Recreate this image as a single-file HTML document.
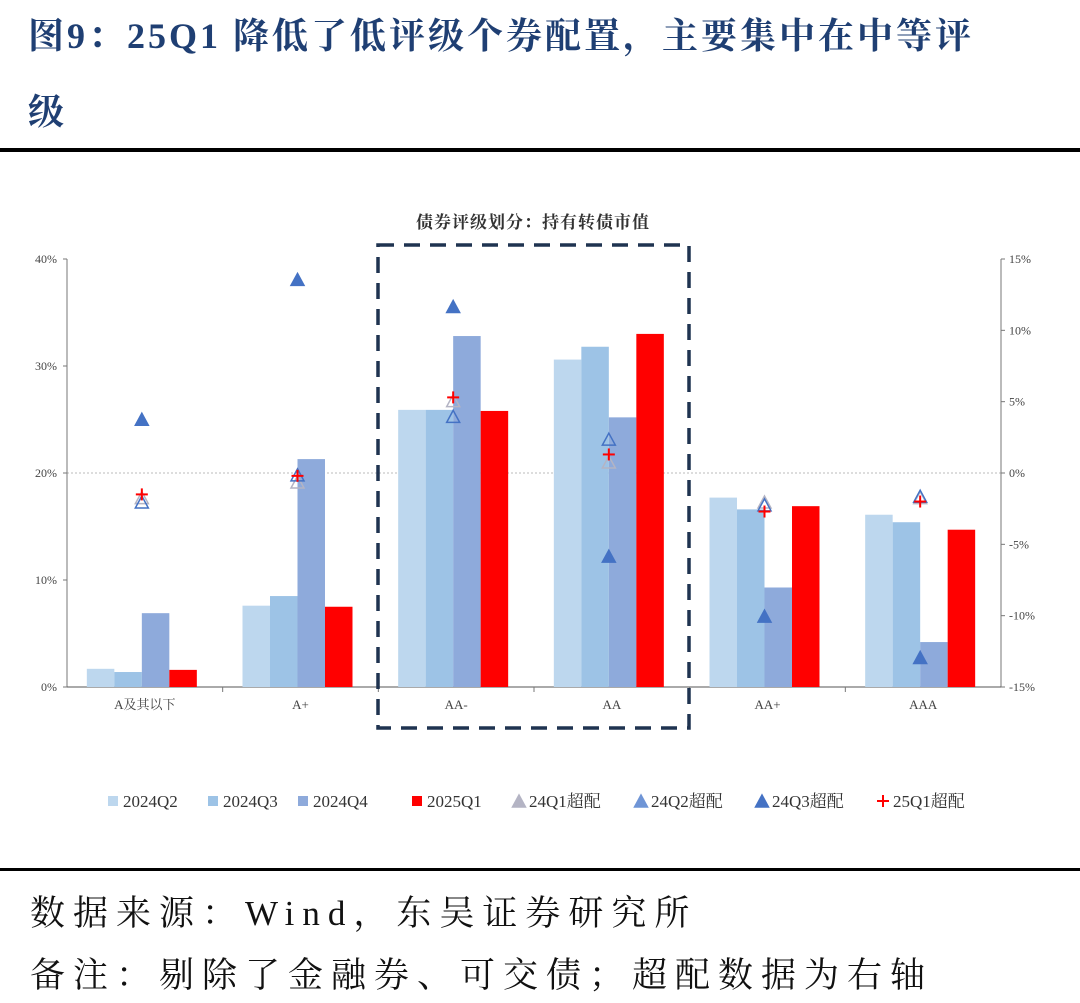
<!DOCTYPE html>
<html><head><meta charset="utf-8"><style>
body{margin:0;background:#fff;width:1080px;height:1003px;overflow:hidden;font-family:"Liberation Serif","Noto Serif CJK SC",serif}
.h{position:absolute;left:28px;color:#1f3f73;font-weight:bold;font-size:36px;font-family:"Liberation Serif","Noto Serif CJK SC",serif;letter-spacing:3px;white-space:nowrap}
.note{position:absolute;left:30px;font-size:35px;color:#111;letter-spacing:8px;white-space:nowrap}
</style></head><body>
<div class="h" style="top:8px">图9：25Q1 降低了低评级个券配置，主要集中在中等评</div>
<div class="h" style="top:84px">级</div>
<div style="position:absolute;left:0;top:148px;width:1080px;height:4px;background:#000"></div>
<div style="position:absolute;left:0;top:868px;width:1080px;height:3px;background:#000"></div>
<div class="note" style="top:886px">数据来源：Wind，东吴证券研究所</div>
<div class="note" style="top:948px">备注：剔除了金融券、可交债；超配数据为右轴</div>
<svg id="c" width="1080" height="1003" style="position:absolute;left:0;top:0"></svg>
<script>
const categories=["A及其以下","A+","AA-","AA","AA+","AAA"];
const s2024Q2=[1.7,7.6,25.9,30.6,17.7,16.1];
const s2024Q3=[1.4,8.5,25.9,31.8,16.6,15.4];
const s2024Q4=[6.9,21.3,32.8,25.2,9.3,4.2];
const s2025Q1=[1.6,7.5,25.8,33.0,16.9,14.7];
const o24Q1=[-1.8,-0.7,5.0,0.7,-2.1,-1.8];
const o24Q2=[-2.1,-0.2,3.9,2.3,-2.3,-1.7];
const o24Q3=[3.7,13.5,11.6,-5.9,-10.1,-13.0];
const o25Q1=[-1.5,-0.2,5.3,1.3,-2.7,-2.0];
const leftTicks=[0,10,20,30,40];
const rightTicks=[-15,-10,-5,0,5,10,15];
const NS="http://www.w3.org/2000/svg",svg=document.getElementById('c');
const X0=67,X1=1001,Y0=687,Y1=259;
const yL=v=>Y0-(v/40)*(Y0-Y1);
const yR=v=>Y0-((v+15)/30)*(Y0-Y1);
const cw=(X1-X0)/categories.length;
const cx=i=>X0+cw*(i+0.5);
function el(t,a,txt){const e=document.createElementNS(NS,t);for(const k in a)e.setAttribute(k,a[k]);if(txt!=null)e.textContent=txt;svg.appendChild(e);return e;}
let e;
e=el('text',{x:533,y:228,'text-anchor':'middle','font-size':17,'font-weight':'bold',fill:'#333','letter-spacing':1},'债券评级划分：持有转债市值');


e=el('line',{x1:X0,x2:X1,y1:yR(0),y2:yR(0),stroke:'#bbb','stroke-width':1,'stroke-dasharray':'2,2'});


el('line',{x1:X0,x2:X0,y1:Y1,y2:Y0,stroke:'#777'});
el('line',{x1:X1,x2:X1,y1:Y1,y2:Y0,stroke:'#777'});
el('line',{x1:X0,x2:X1,y1:Y0,y2:Y0,stroke:'#555'});
leftTicks.forEach(t=>{el('line',{x1:X0-4,x2:X0,y1:yL(t),y2:yL(t),stroke:'#777'});
e=el('text',{x:X0-10,y:yL(t)+4,'text-anchor':'end','font-size':12,fill:'#444'},t+'%');

});
rightTicks.forEach(t=>{el('line',{x1:X1,x2:X1+4,y1:yR(t),y2:yR(t),stroke:'#777'});
e=el('text',{x:X1+8,y:yR(t)+4,'font-size':12,fill:'#444'},t+'%');

});
const series=[[s2024Q2,'#bdd7ee'],[s2024Q3,'#9dc3e6'],[s2024Q4,'#8eaadb'],[s2025Q1,'#ff0000']];
const bw=27.5;
categories.forEach((c,i)=>{
 if(i>0)el('line',{x1:X0+cw*i,x2:X0+cw*i,y1:Y0,y2:Y0+5,stroke:'#777'});
 series.forEach(([arr,col],j)=>{
  e=el('rect',{x:cx(i)-58+j*bw,y:yL(arr[i]),width:bw,height:Y0-yL(arr[i]),fill:col});
  
  
 });
 e=el('text',{x:cx(i),y:Y0+22,'text-anchor':'middle','font-size':13,fill:'#444'},c);
 
 
});
function tri(x,y,fill,stroke){return el('path',{d:`M${x},${y-7}L${x+6.5},${y+5}L${x-6.5},${y+5}Z`,fill:fill,stroke:stroke,'stroke-width':1.5});}
function plus(x,y){const g=document.createElementNS(NS,'g');svg.appendChild(g);
 ['M'+(x-6)+','+y+'h12','M'+x+','+(y-6)+'v12'].forEach(d=>{const p=document.createElementNS(NS,'path');p.setAttribute('d',d);p.setAttribute('stroke','#ff0000');p.setAttribute('stroke-width',2);g.appendChild(p);});return g;}
categories.forEach((c,i)=>{
 const mx=cx(i)-3;
 e=tri(mx,yR(o24Q1[i]),'none','#b4b4c4');
 
 
 e=tri(mx,yR(o24Q2[i]),'none','#4472c4');
 
 
 e=tri(mx,yR(o24Q3[i]),'#4472c4','#4472c4');
 
 
 e=plus(mx,yR(o25Q1[i]));
 
 
});
e=el('rect',{x:378,y:245,width:311,height:483,fill:'none',stroke:'#1f3350','stroke-width':3.5,'stroke-dasharray':'16,10'});


const legendNames=["2024Q2","2024Q3","2024Q4","2025Q1","24Q1超配","24Q2超配","24Q3超配","25Q1超配"];
const lx=[108,208,298,412,514,636,757,878];
legendNames.forEach((n,k)=>{
 const y=801,x=lx[k];
 if(k<4){e=el('rect',{x:x,y:y-5,width:10,height:10,fill:series[k][1]});}
 else if(k==4)e=tri(x+5,y+1,'#b4b4c4','#b4b4c4');
 else if(k==5)e=tri(x+5,y+1,'#6f95d6','#6f95d6');
 else if(k==6)e=tri(x+5,y+1,'#4472c4','#4472c4');
 else e=plus(x+5,y);
 
 
 e=el('text',{x:x+15,y:y+6,'font-size':17,fill:'#333'},n);
 
 
});
</script>
</body></html>
